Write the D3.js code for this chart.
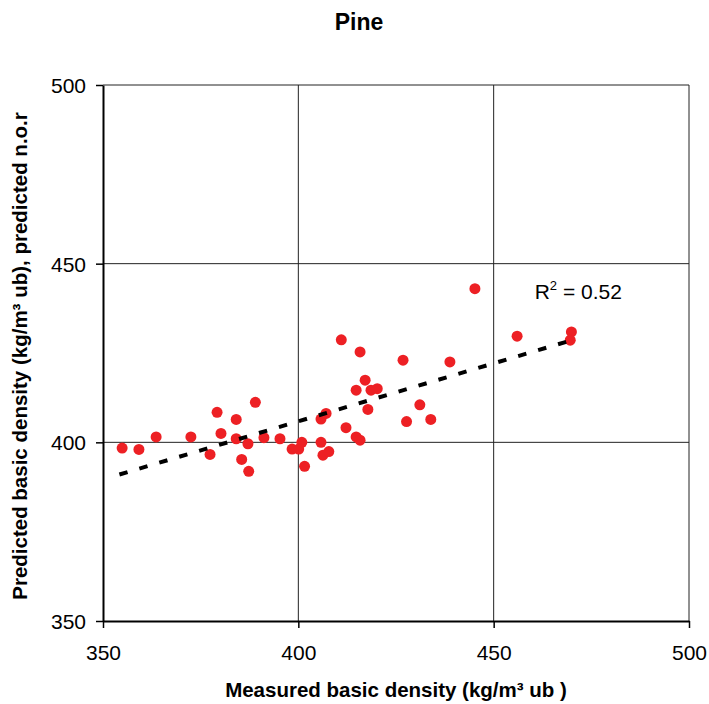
<!DOCTYPE html>
<html>
<head>
<meta charset="utf-8">
<script src="https://cdn.jsdelivr.net/npm/d3@7"></script>
<style>
  body { margin: 0; background: #fff; }
  svg { display: block; font-family: "Liberation Sans", Arial, sans-serif; }
</style>
</head>
<body>
<div id="chart"></div>
<script>
// measured vs predicted basic density
const measured = [354.9, 359.2, 363.6, 372.5, 377.4, 379.2, 380.2, 384.1, 384.1, 385.5,
  387.1, 387.3, 389.0, 391.2, 395.3, 398.4, 400.1, 400.9, 401.6, 405.8,
  406.3, 405.8, 407.1, 407.8, 411.0, 412.2, 414.8, 414.8, 415.8, 415.8,
  417.1, 417.8, 418.6, 420.2, 426.8, 427.7, 431.1, 433.9, 438.8, 445.2,
  456.0, 469.9, 469.6];
const predicted = [398.4, 398.0, 401.5, 401.5, 396.6, 408.4, 402.5, 406.4, 401.0, 395.2,
  399.6, 391.9, 411.2, 401.3, 401.0, 398.1, 398.1, 400.0, 393.3, 400.0,
  396.4, 406.5, 408.1, 397.4, 428.7, 404.1, 414.6, 401.5, 400.6, 425.3,
  417.4, 409.2, 414.6, 415.0, 423.0, 405.8, 410.5, 406.4, 422.5, 443.0,
  429.7, 430.9, 428.6];
// linear trend line end points
const trendX = [354.2, 470];
const trendY = [391.0, 428.6];
const xTicks = [350, 400, 450, 500];
const yTicks = [350, 400, 450, 500];

const width = 709, height = 704;
const margin = {top: 85, right: 20, bottom: 83, left: 103};

const svg = d3.select('#chart').append('svg')
  .attr('width', width)
  .attr('height', height);

const x = d3.scaleLinear().domain([350, 500]).range([margin.left, width - margin.right]);
const y = d3.scaleLinear().domain([350, 500]).range([height - margin.bottom, margin.top]);

// inner grid
svg.append('g')
  .selectAll('line.vg')
  .data(xTicks.slice(1))
  .join('line')
  .attr('x1', d => x(d)).attr('x2', d => x(d))
  .attr('y1', y(350)).attr('y2', y(500))
  .attr('stroke', '#222').attr('stroke-width', 1);

svg.append('g')
  .selectAll('line.hg')
  .data(yTicks.slice(1))
  .join('line')
  .attr('x1', x(350)).attr('x2', x(500))
  .attr('y1', d => y(d)).attr('y2', d => y(d))
  .attr('stroke', '#222').attr('stroke-width', 1);

// axes
const xAxis = svg.append('g')
  .attr('transform', `translate(0,${y(350)})`)
  .call(d3.axisBottom(x).tickValues(xTicks).tickSize(7).tickPadding(17).tickSizeOuter(0));
const yAxis = svg.append('g')
  .attr('transform', `translate(${x(350)},0)`)
  .call(d3.axisLeft(y).tickValues(yTicks).tickSize(7).tickPadding(10).tickSizeOuter(0));

[xAxis, yAxis].forEach(g => {
  g.select('.domain').attr('stroke', '#000').attr('stroke-width', 2);
  g.selectAll('.tick line').attr('stroke', '#000').attr('stroke-width', 1.5);
  g.selectAll('.tick text')
    .attr('fill', '#000')
    .attr('font-size', 21)
    .attr('font-family', '"Liberation Sans", Arial, sans-serif');
});
yAxis.selectAll('.tick text').attr('dy', '0.36em');

// dots
svg.append('g')
  .selectAll('circle')
  .data(measured.map((m, i) => [m, predicted[i]]))
  .join('circle')
  .attr('cx', d => x(d[0]))
  .attr('cy', d => y(d[1]))
  .attr('r', 5.5)
  .attr('fill', '#ED2024');

// trend line
svg.append('path')
  .datum(trendX.map((t, i) => [t, trendY[i]]))
  .attr('d', d3.line().x(d => x(d[0])).y(d => y(d[1])))
  .attr('fill', 'none')
  .attr('stroke', '#000')
  .attr('stroke-width', 4)
  .attr('stroke-dasharray', '8.5,12.3');

// R² label
const r2 = svg.append('text')
  .attr('x', x(460.5))
  .attr('y', y(440.2))
  .attr('font-size', 21)
  .attr('fill', '#000');
r2.append('tspan').text('R');
r2.append('tspan').attr('dy', -9).attr('font-size', 13).text('2');
r2.append('tspan').attr('dy', 9).text(' = 0.52');

// title and axis titles
svg.append('text')
  .attr('x', 359).attr('y', 30)
  .attr('text-anchor', 'middle')
  .attr('font-size', 23)
  .attr('font-weight', 'bold')
  .text('Pine');

svg.append('text')
  .attr('x', 396).attr('y', 697)
  .attr('text-anchor', 'middle')
  .attr('font-size', 20.5)
  .attr('font-weight', 'bold')
  .text('Measured basic density (kg/m³ ub )');

svg.append('text')
  .attr('transform', `translate(27,${356}) rotate(-90)`)
  .attr('text-anchor', 'middle')
  .attr('font-size', 20.5)
  .attr('font-weight', 'bold')
  .text('Predicted basic density (kg/m³ ub), predicted n.o.r');
</script>
</body>
</html>
